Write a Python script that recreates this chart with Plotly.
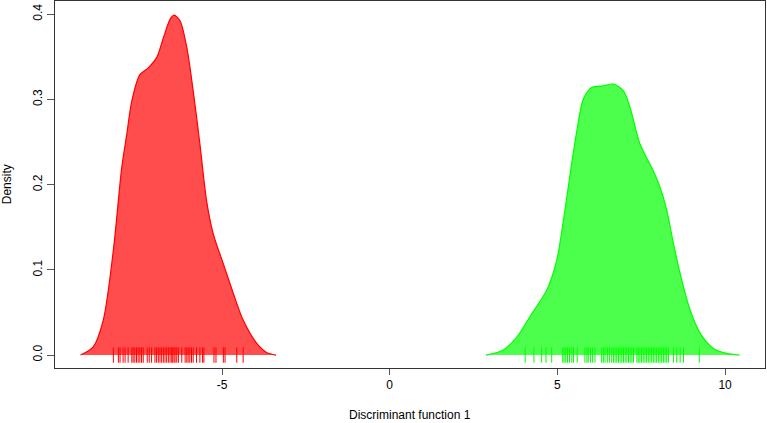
import plotly.graph_objects as go

# Density curve of group 1 (red)
red_x = [-9.22, -8.84, -8.54, -8.24, -7.99, -7.84, -7.69, -7.45, -7.20, -6.95, -6.75,
         -6.55, -6.43, -6.25, -6.05, -5.86, -5.66, -5.46, -5.26, -4.96, -4.66, -4.37,
         -3.97, -3.67, -3.39]
red_y = [0.000, 0.0097, 0.041, 0.123, 0.220, 0.259, 0.298, 0.329, 0.337, 0.349, 0.372,
         0.394, 0.399, 0.392, 0.361, 0.310, 0.248, 0.181, 0.142, 0.107, 0.072, 0.041,
         0.014, 0.003, 0.000]

# Density curve of group 2 (green)
green_x = [2.87, 3.39, 3.79, 4.18, 4.68, 4.98, 5.18, 5.38, 5.58, 5.77, 6.02, 6.37, 6.67,
           6.97, 7.17, 7.46, 7.86, 8.06, 8.26, 8.46, 8.66, 8.96, 9.26, 9.65, 10.05, 10.43]
green_y = [0.000, 0.006, 0.021, 0.045, 0.076, 0.111, 0.158, 0.2125, 0.263, 0.300, 0.314,
           0.316, 0.318, 0.310, 0.290, 0.248, 0.216, 0.197, 0.170, 0.131, 0.0956, 0.0526,
           0.0254, 0.0078, 0.002, 0.000]

# Rug (individual discriminant scores)
red_rug = [-8.24, -8.09, -8.04, -7.95, -7.89, -7.80, -7.69, -7.65, -7.60, -7.55, -7.50,
           -7.45, -7.40, -7.35, -7.23, -7.17, -7.10, -7.00, -6.95, -6.90, -6.85, -6.80,
           -6.75, -6.70, -6.65, -6.60, -6.55, -6.50, -6.47, -6.43, -6.40, -6.35, -6.30,
           -6.20, -6.10, -6.05, -6.01, -5.96, -5.91, -5.86, -5.76, -5.66, -5.58, -5.54,
           -5.24, -5.18, -4.96, -4.91, -4.56, -4.37]
green_rug = [4.04, 4.30, 4.53, 4.66, 4.83, 5.16, 5.20, 5.25, 5.30, 5.36, 5.43, 5.48, 5.59,
             5.82, 5.88, 5.92, 5.99, 6.05, 6.12, 6.32, 6.37, 6.42, 6.49, 6.55, 6.62, 6.67,
             6.72, 6.77, 6.82, 6.87, 6.92, 6.97, 7.02, 7.07, 7.12, 7.17, 7.22, 7.27, 7.37,
             7.41, 7.46, 7.51, 7.56, 7.61, 7.66, 7.71, 7.76, 7.81, 7.86, 7.91, 7.96, 8.01,
             8.06, 8.11, 8.16, 8.21, 8.26, 8.31, 8.46, 8.56, 8.66, 8.76, 9.23]

x_ticks = [-5, 0, 5, 10]
x_tick_text = ["-5", "0", "5", "10"]
y_ticks = [0.0, 0.1, 0.2, 0.3, 0.4]
y_tick_text = ["0.0", "0.1", "0.2", "0.3", "0.4"]
x_title = "Discriminant function 1"
y_title = "Density"

fig = go.Figure()

for xs, ys, line_c, fill_c in [(red_x, red_y, "rgb(255,0,0)", "rgba(255,0,0,0.7)"),
                               (green_x, green_y, "rgb(0,255,0)", "rgba(0,255,0,0.7)")]:
    fig.add_trace(go.Scatter(x=xs, y=ys, mode="lines", fill="toself", fillcolor=fill_c,
                             line=dict(color=line_c, width=1.2, shape="spline", smoothing=0.8),
                             hoverinfo="skip", showlegend=False))

for rug, c in [(red_rug, "rgb(255,0,0)"), (green_rug, "rgb(0,255,0)")]:
    fig.add_trace(go.Scatter(x=rug, y=[0] * len(rug), mode="markers",
                             marker=dict(symbol="line-ns", size=11,
                                         line=dict(color=c, width=1)),
                             hoverinfo="skip", showlegend=False))

axis_font = dict(family="Liberation Sans, Arial, sans-serif", size=12, color="#000")

fig.update_layout(
    width=767, height=423,
    margin=dict(l=55, r=2, t=1, b=55),
    paper_bgcolor="white", plot_bgcolor="white",
    font=axis_font,
    xaxis=dict(range=[-9.98, 11.19], tickvals=x_ticks, ticktext=x_tick_text,
               ticks="outside", ticklen=6,
               tickcolor="#555", showline=True, linecolor="#333", linewidth=1, mirror=True,
               showgrid=False, zeroline=False, tickfont=axis_font, automargin=False),
    yaxis=dict(range=[-0.0152, 0.4155], tickvals=y_ticks, ticktext=y_tick_text,
               tickangle=-90, ticks="outside", ticklen=7, tickcolor="#555",
               showline=True, linecolor="#333", linewidth=1, mirror=True,
               showgrid=False, zeroline=False, tickfont=axis_font, automargin=False),
    annotations=[
        dict(text=x_title, xref="paper", yref="paper", x=0.5, y=-0.128,
             xanchor="center", yanchor="middle", showarrow=False, font=axis_font),
        dict(text=y_title, xref="paper", yref="paper", x=-0.068, y=0.5,
             xanchor="center", yanchor="middle", textangle=-90, showarrow=False,
             font=axis_font),
    ],
)

fig.write_html("out.html", config={"displayModeBar": False},
               post_script="document.body.style.margin='0';")
